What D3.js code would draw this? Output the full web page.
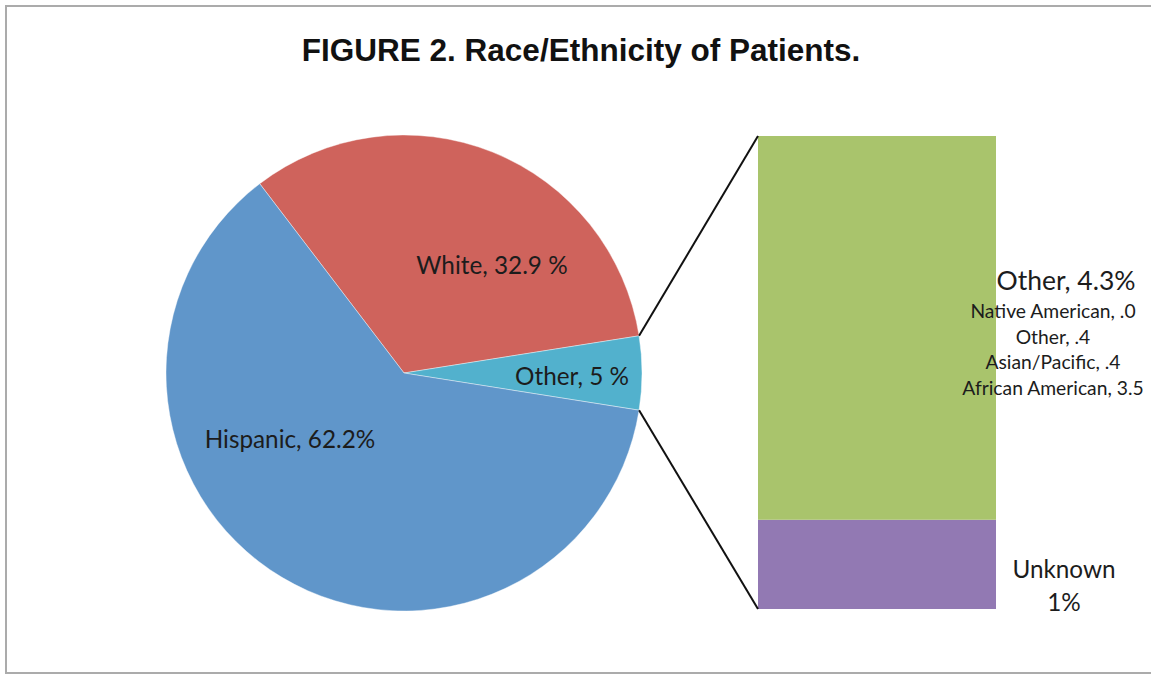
<!DOCTYPE html>
<html>
<head>
<meta charset="utf-8">
<script src="https://cdn.jsdelivr.net/npm/d3@7"></script>
<style>
  html, body { margin: 0; padding: 0; background: #fff; }
  svg { display: block; }
</style>
</head>
<body>
<svg id="chart" width="1151" height="675"></svg>
<script>
// Main pie: share of patients by race/ethnicity (%)
const pieCategories = ["White", "Other", "Hispanic"];
const pieValues = [32.9, 5, 62.2];
const pieLabels = ["White, 32.9 %", "Other, 5 %", "Hispanic, 62.2%"];

// Breakdown bar for the "Other" slice (%)
const barCategories = ["Unknown", "Other"];
const barValues = [1, 4.3];
const barLabels = [["Unknown", "1%"], ["Other, 4.3%"]];

// Sub-groups listed under the "Other, 4.3%" segment
const subCategories = ["Native American", "Other", "Asian/Pacific", "African American"];
const subValues = [".0", ".4", ".4", "3.5"];

const pieColors = ["#CF635C", "#52B1CD", "#6096CA"];
const barColors = ["#9279B3", "#A9C46C"];

const svg = d3.select("#chart");
const font = "Lato, 'Open Sans', sans-serif";
const ink = "#1c1c1c";

// Frame
svg.append("rect")
  .attr("x", 6).attr("y", 6).attr("width", 1170).attr("height", 667)
  .attr("fill", "none").attr("stroke", "#ababab").attr("stroke-width", 2);

// Title
svg.append("text")
  .attr("x", 581).attr("y", 61)
  .attr("text-anchor", "middle")
  .attr("font-family", "'Liberation Sans', Arial, sans-serif")
  .attr("font-weight", "bold")
  .attr("font-size", 31.5)
  .attr("fill", "#111")
  .text("FIGURE 2. Race/Ethnicity of Patients.");

// ---- Pie ----
const cx = 404, cy = 373, r = 238;
const total = d3.sum(pieValues);
const otherIdx = pieCategories.indexOf("Other");
// Rotate so the "Other" slice points straight at the breakdown bar (3 o'clock)
const before = d3.sum(pieValues.slice(0, otherIdx)) + pieValues[otherIdx] / 2;
const start = Math.PI / 2 - before / total * 2 * Math.PI;

const pie = d3.pie().sort(null).value(d => d)
  .startAngle(start).endAngle(start + 2 * Math.PI);
const arcs = pie(pieValues);
const arc = d3.arc().innerRadius(0).outerRadius(r);

const g = svg.append("g").attr("transform", `translate(${cx},${cy})`);
g.selectAll("path").data(arcs).join("path")
  .attr("d", arc)
  .attr("fill", (d, i) => pieColors[i])
  .attr("stroke", "#ffffff").attr("stroke-opacity", 0.5).attr("stroke-width", 0.8);

// Label anchors inside each slice, relative to the pie centre
const pieLabelOffset = [[88, -99], [168, 12], [-114, 75]];
g.selectAll("text.pl").data(arcs).join("text")
  .attr("class", "pl")
  .attr("x", (d, i) => pieLabelOffset[i][0])
  .attr("y", (d, i) => pieLabelOffset[i][1])
  .attr("text-anchor", "middle")
  .attr("font-family", font)
  .attr("font-size", 24.3)
  .attr("fill", ink)
  .text((d, i) => pieLabels[i]);

// ---- Breakdown bar ----
const barX = 758, barW = 238, barTop = 136, barBottom = 609;
const barTotal = d3.sum(barValues);
const y = d3.scaleLinear().domain([0, barTotal]).range([barBottom, barTop]);
const stack = [];
let acc = 0;
barValues.forEach((v, i) => { stack.push({ y0: acc, y1: acc + v, i }); acc += v; });

svg.selectAll("rect.seg").data(stack).join("rect")
  .attr("class", "seg")
  .attr("x", barX).attr("width", barW)
  .attr("y", d => y(d.y1)).attr("height", d => y(d.y0) - y(d.y1))
  .attr("fill", d => barColors[d.i]);

// Connector lines from the "Other" slice edges to the bar corners
const oa = arcs[otherIdx];
const p1 = [cx + Math.sin(oa.startAngle) * r, cy - Math.cos(oa.startAngle) * r];
const p2 = [cx + Math.sin(oa.endAngle) * r, cy - Math.cos(oa.endAngle) * r];
svg.append("line")
  .attr("x1", p1[0]).attr("y1", p1[1]).attr("x2", barX).attr("y2", y(barTotal))
  .attr("stroke", "#111").attr("stroke-width", 2);
svg.append("line")
  .attr("x1", p2[0]).attr("y1", p2[1]).attr("x2", barX).attr("y2", y(0))
  .attr("stroke", "#111").attr("stroke-width", 2);

// Bar labels
const labelX = [1064, 1066];
const labelY = [578, 290];
const labelSize = [24.3, 26.5];
stack.forEach(d => {
  const t = svg.append("text")
    .attr("text-anchor", "middle")
    .attr("font-family", font)
    .attr("font-size", labelSize[d.i])
    .attr("fill", ink);
  barLabels[d.i].forEach((line, k) => {
    t.append("tspan").attr("x", labelX[d.i]).attr("y", labelY[d.i] + k * 33).text(line);
  });
});

// Sub-group lines under "Other, 4.3%"
svg.selectAll("text.sub").data(subCategories).join("text")
  .attr("class", "sub")
  .attr("x", 1053)
  .attr("y", (d, i) => 318 + i * 25.5)
  .attr("text-anchor", "middle")
  .attr("font-family", font)
  .attr("font-size", 19.3)
  .attr("fill", ink)
  .text((d, i) => `${d}, ${subValues[i]}`);
</script>
</body>
</html>
